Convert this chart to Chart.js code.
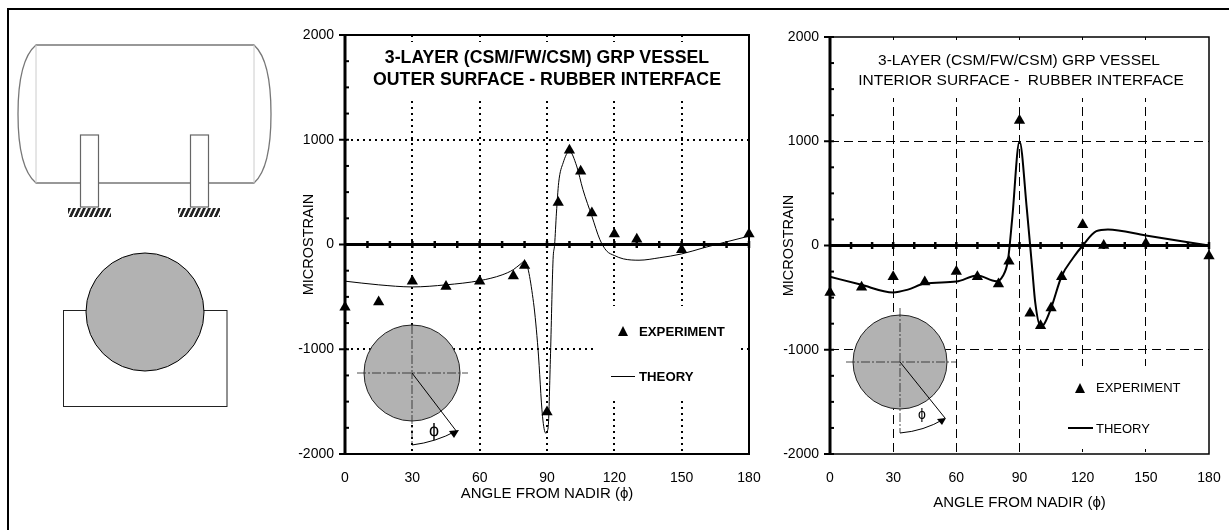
<!DOCTYPE html>
<html>
<head>
<meta charset="utf-8">
<script src="https://cdn.jsdelivr.net/npm/chart.js@4"></script>
<style>
  html, body { margin: 0; padding: 0; background: #fff; }
  #page { position: relative; width: 1229px; height: 530px; overflow: hidden; }
  #frame { position: absolute; left: 7px; top: 8px; width: 1300px; height: 600px; border: 2px solid #000; }
  canvas { position: absolute; }
  #wrapA { position: absolute; left: 285px; top: 20px; width: 490px; height: 490px; }
  #wrapB { position: absolute; left: 770px; top: 20px; width: 459px; height: 492px; }
  svg { position: absolute; left: 0; top: 0; pointer-events: none; }
  svg text { font-family: "Liberation Sans", Arial, sans-serif; fill: #000; white-space: pre; }
</style>
</head>
<body>
<div id="page">
  <div id="frame"></div>
  <svg width="285" height="530" viewBox="0 0 285 530">
    <defs>
      <pattern id="hatch" width="5" height="9" patternUnits="userSpaceOnUse" patternTransform="skewX(-25)">
        <rect width="5" height="9" fill="#fff"/>
        <rect width="3" height="9" fill="#222"/>
      </pattern>
    </defs>
    <!-- vessel -->
    <path d="M36 45 H254 Q271 60 271 114 Q271 168 254 183 H36 Q18 168 18 114 Q18 60 36 45 Z" fill="#fff" stroke="#777" stroke-width="1.3"/>
    <path d="M36 45 V183 M254 45 V183" stroke="#ccc" stroke-width="1" fill="none"/>
    <rect x="80.5" y="135" width="18" height="72" fill="#fff" stroke="#666" stroke-width="1.2"/>
    <rect x="190.5" y="135" width="18" height="72" fill="#fff" stroke="#666" stroke-width="1.2"/>
    <rect x="68" y="208" width="43" height="9" fill="url(#hatch)"/>
    <rect x="178" y="208" width="42" height="9" fill="url(#hatch)"/>
    <!-- cross section -->
    <rect x="63.5" y="310.5" width="163.5" height="96" fill="#fff" stroke="#222"/>
    <circle cx="145" cy="312" r="59" fill="#b2b2b2" stroke="#000"/>
  </svg>
  <div id="wrapA"><canvas id="chartA"></canvas></div>
  <div id="wrapB"><canvas id="chartB"></canvas></div>
  <svg width="1229" height="530" viewBox="0 0 1229 530">
    <!-- left plot inset -->
    <circle cx="412" cy="373" r="48" fill="#b2b2b2" stroke="#222"/>
    <path d="M357 373 H468 M412 325 V445" stroke="#222" stroke-width="0.8" stroke-dasharray="9 2 2 2" fill="none"/>
    <path d="M412 373 L457 432" stroke="#000" fill="none"/>
    <path d="M412 445 Q436 442 456 431" stroke="#000" fill="none"/>
    <path d="M449 431 L459 430 L454 438 Z" fill="#000"/>
    <text x="434" y="436" font-size="18" text-anchor="middle">ϕ</text>
    <!-- left plot text -->
    <text x="547" y="63" font-size="17.7" font-weight="bold" text-anchor="middle">3-LAYER (CSM/FW/CSM) GRP VESSEL</text>
    <text x="547" y="85" font-size="17.7" font-weight="bold" text-anchor="middle">OUTER SURFACE - RUBBER INTERFACE</text>
    <path d="M623 326 L628 336 L618 336 Z" fill="#000"/>
    <text x="639" y="336" font-size="13.2" font-weight="bold">EXPERIMENT</text>
    <path d="M611 376.5 H635" stroke="#000" fill="none"/>
    <text x="639" y="381" font-size="13.2" font-weight="bold">THEORY</text>
    <!-- right plot inset -->
    <circle cx="900" cy="362" r="47" fill="#b2b2b2" stroke="#222"/>
    <path d="M846 362 H956 M900 308 V433" stroke="#222" stroke-width="0.8" stroke-dasharray="9 2 2 2" fill="none"/>
    <path d="M900 362 L945 418" stroke="#000" fill="none"/>
    <path d="M900 433 Q924 431 944 419" stroke="#000" fill="none"/>
    <path d="M937 419 L946 418 L942 425 Z" fill="#000"/>
    <text x="922" y="419" font-size="14" text-anchor="middle">ϕ</text>
    <!-- right plot text -->
    <text x="1019" y="65" font-size="15.5" text-anchor="middle">3-LAYER (CSM/FW/CSM) GRP VESSEL</text>
    <text x="1021" y="85" font-size="15.5" text-anchor="middle">INTERIOR SURFACE -  RUBBER INTERFACE</text>
    <path d="M1080 383 L1085 393 L1075 393 Z" fill="#000"/>
    <text x="1096" y="392" font-size="13">EXPERIMENT</text>
    <path d="M1068 428 H1093" stroke="#000" stroke-width="2" fill="none"/>
    <text x="1096" y="433" font-size="13">THEORY</text>
  </svg>
</div>
<script>
// outer surface
const outerExpAngle = [0, 15, 30, 45, 60, 75, 80, 90, 95, 100, 105, 110, 120, 130, 150, 180];
const outerExpStrain = [-600, -550, -350, -400, -350, -300, -200, -1600, 400, 900, 700, 300, 100, 50, -50, 100];
const outerTheoryAngle = [0, 15, 30, 45, 60, 70, 75, 78, 80, 84, 86, 88, 89.4, 90.5, 91.5, 92.7, 93.4, 94.2, 95.2, 97.2, 100, 103.2, 106, 110, 113.5, 116.5, 120, 124, 131, 140, 150, 160, 169, 180];
const outerTheoryStrain = [-350, -385, -405, -385, -345, -290, -240, -190, -160, -555, -1000, -1640, -1800, -1750, -1100, -145, 0, 300, 590, 780, 890, 750, 525, 270, 50, -60, -105, -137, -150, -127, -90, -30, 20, 80];

// interior surface
const innerExpAngle = [0, 15, 30, 45, 60, 70, 80, 85, 90, 95, 100, 105, 110, 120, 130, 150, 180];
const innerExpStrain = [-450, -400, -300, -350, -250, -300, -370, -150, 1200, -650, -770, -600, -300, 200, 0, 20, -100];
const innerTheoryAngle = [0, 14.5, 30, 37, 45, 60, 70, 79, 82, 84.5, 86.5, 90, 93.5, 96, 97.5, 100, 101.5, 105, 110, 115.5, 120, 126.5, 132, 150, 180];
const innerTheoryStrain = [-300, -375, -450, -423, -365, -346, -288, -343, -295, -144, 250, 1000, 346, -215, -551, -776, -760, -600, -295, -118, 0, 138, 154, 96, 0];

const majorAngles = [30, 60, 90, 120, 150];
const majorStrains = [-1000, 1000];

// white boxes behind the titles and legends, and the small ticks on the zero line and y axis
const plotExtras = {
  id: 'plotExtras',
  beforeDatasetsDraw(chart, args, opts) {
    const { ctx, chartArea: a, scales: { x, y } } = chart;
    const wrap = chart.canvas.parentNode;
    ctx.save();
    ctx.fillStyle = '#fff';
    opts.masks.forEach(m => {
      ctx.fillRect(m[0] - wrap.offsetLeft, m[1] - wrap.offsetTop, m[2], m[3]);
    });
    ctx.strokeStyle = '#000';
    ctx.lineWidth = opts.frameWidth;
    ctx.strokeRect(a.left, a.top, a.right - a.left, a.bottom - a.top);
    ctx.lineWidth = 3;
    ctx.beginPath();
    ctx.moveTo(a.left, y.getPixelForValue(0));
    ctx.lineTo(a.right, y.getPixelForValue(0));
    ctx.stroke();
    ctx.beginPath();
    ctx.moveTo(a.left, a.top);
    ctx.lineTo(a.left, a.bottom);
    ctx.stroke();
    ctx.lineWidth = 2.5;
    for (let v = 10; v <= 180; v += 10) {
      const px = x.getPixelForValue(v);
      ctx.beginPath();
      ctx.moveTo(px, y.getPixelForValue(0) - 3.5);
      ctx.lineTo(px, y.getPixelForValue(0) + 3.5);
      ctx.stroke();
    }
    ctx.lineWidth = 2;
    for (let v = -2000; v <= 2000; v += 250) {
      const py = y.getPixelForValue(v);
      ctx.beginPath();
      ctx.moveTo(a.left - (v % 1000 === 0 ? 6 : 0), py);
      ctx.lineTo(a.left + 4, py);
      ctx.stroke();
    }
    ctx.restore();
  }
};

function makeChart(id, cfg) {
  const expData = cfg.expAngle.map((v, i) => ({ x: v, y: cfg.expStrain[i] }));
  const theoryData = cfg.theoryAngle.map((v, i) => ({ x: v, y: cfg.theoryStrain[i] }));
  return new Chart(document.getElementById(id), {
    type: 'scatter',
    data: {
      datasets: [
        {
          label: 'THEORY',
          data: theoryData,
          showLine: true,
          borderColor: '#000',
          borderWidth: cfg.lineWidth,
          cubicInterpolationMode: 'monotone',
          pointRadius: 0
        },
        {
          label: 'EXPERIMENT',
          data: expData,
          pointStyle: 'triangle',
          pointRadius: 6.5,
          backgroundColor: '#000',
          borderColor: '#000',
          borderWidth: 0
        }
      ]
    },
    plugins: [plotExtras],
    options: {
      responsive: true,
      maintainAspectRatio: false,
      animation: false,
      clip: false,
      layout: { padding: cfg.padding },
      plugins: {
        legend: { display: false },
        tooltip: { enabled: false },
        plotExtras: { masks: cfg.masks, frameWidth: cfg.frameWidth }
      },
      scales: {
        x: {
          type: 'linear',
          min: 0,
          max: 180,
          afterBuildTicks: s => { s.ticks = [0, 30, 60, 90, 120, 150, 180].map(v => ({ value: v })); },
          afterFit: s => { s.height = cfg.xHeight; s.paddingLeft = 0; s.paddingRight = 0; },
          ticks: {
            color: '#000',
            autoSkip: false,
            maxRotation: 0,
            padding: 16,
            font: { family: '"Liberation Sans", Arial, sans-serif', size: 14 }
          },
          grid: {
            color: c => majorAngles.includes(c.tick && c.tick.value) ? '#000' : 'transparent',
            lineWidth: cfg.gridWidth,
            drawTicks: false
          },
          border: { display: false, dash: cfg.dash },
          title: {
            display: true,
            text: 'ANGLE FROM NADIR (ϕ)',
            color: '#000',
            padding: 0,
            font: { family: '"Liberation Sans", Arial, sans-serif', size: 15 }
          }
        },
        y: {
          type: 'linear',
          min: -2000,
          max: 2000,
          afterBuildTicks: s => { s.ticks = [-2000, -1000, 0, 1000, 2000].map(v => ({ value: v })); },
          afterFit: s => { s.width = 60 - cfg.padding.left; s.paddingTop = 0; s.paddingBottom = 0; },
          ticks: {
            color: '#000',
            padding: 11,
            callback: v => String(v),
            font: { family: '"Liberation Sans", Arial, sans-serif', size: 14 }
          },
          grid: {
            color: c => majorStrains.includes(c.tick && c.tick.value) ? '#000' : 'transparent',
            lineWidth: cfg.gridWidth,
            drawTicks: false
          },
          border: { display: false, dash: cfg.dash },
          title: {
            display: true,
            text: 'MICROSTRAIN',
            color: '#000',
            padding: { top: cfg.yTitleGap, bottom: 0 },
            font: { family: '"Liberation Sans", Arial, sans-serif', size: 14.5 }
          }
        }
      }
    }
  });
}

makeChart('chartA', {
  expAngle: outerExpAngle,
  expStrain: outerExpStrain,
  theoryAngle: outerTheoryAngle,
  theoryStrain: outerTheoryStrain,
  lineWidth: 1,
  gridWidth: 2,
  frameWidth: 2,
  dash: [2, 4],
  xHeight: 49,
  yTitleGap: 7,
  padding: { left: 8, right: 26, top: 15, bottom: 7 },
  masks: [[350, 42, 396, 55], [596, 306, 144, 95]]
});

makeChart('chartB', {
  expAngle: innerExpAngle,
  expStrain: innerExpStrain,
  theoryAngle: innerTheoryAngle,
  theoryStrain: innerTheoryStrain,
  lineWidth: 2,
  gridWidth: 1,
  frameWidth: 1.5,
  dash: [9, 5],
  xHeight: 58,
  yTitleGap: 5,
  padding: { left: 5, right: 20, top: 17, bottom: 0 },
  masks: [[835, 40, 370, 58], [1025, 366, 180, 83]]
});
</script>
</body>
</html>
